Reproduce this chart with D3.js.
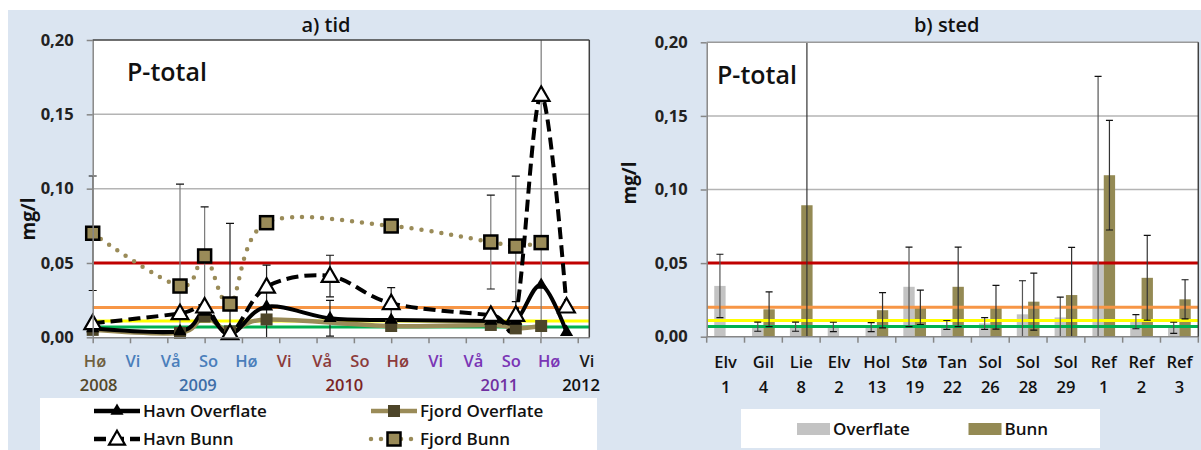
<!DOCTYPE html>
<html><head><meta charset="utf-8">
<script src="https://cdn.jsdelivr.net/npm/d3@7"></script>
<style>body{margin:0;background:#fff}svg{display:block}text{font-family:"Open Sans",sans-serif}</style>
</head><body><svg id="c" width="1201" height="450"></svg>
<script>
// ---------------- DATA ----------------
const yTicks = [0, 0.05, 0.10, 0.15, 0.20];
const refLevels = [0.05, 0.02, 0.011, 0.007];

// a) tid  — x given in seasons since autumn 2008
const seasonLabels = ["Hø","Vi","Vå","So","Hø","Vi","Vå","So","Hø","Vi","Vå","So","Hø","Vi"];
const seasonYear   = [0,1,1,1,1,2,2,2,2,3,3,3,3,4];
const yearLabels   = ["2008","2009","2010","2011","2012"];

const havnX          = [0, 2.34, 3.0, 3.68, 4.66, 6.36, 8.0, 10.67, 11.34, 12.02, 12.7];
const havnOverflate  = [0.006, 0.004, 0.017, 0.002, 0.0206, 0.0128, 0.0116, 0.011, 0.011, 0.0352, 0.0035];
const havnOverflateE = [null, null, null, null, 0.028, 0.012, null, null, null, null, null];
const havnBunn       = [0.0094, 0.0161, 0.0206, 0.0027, 0.034, 0.0412, 0.0229, 0.015, 0.015, 0.163, 0.0206];
const havnBunnE      = [null, null, null, 0.074, null, 0.014, 0.0105, null, 0.009, null, null];

const fjordX         = [0, 2.34, 3.0, 3.68, 4.66, 8.0, 10.67, 11.34, 12.02];
const fjordOverflate = [0.005, 0.003, 0.0139, 0.004, 0.012, 0.0076, 0.0083, 0.006, 0.0076];
const fjordBunn      = [0.070, 0.0345, 0.0547, 0.0224, 0.0771, 0.0749, 0.0641, 0.0614, 0.0637];
const fjordBunnE     = [0.0385, 0.0685, 0.033, null, null, null, 0.0316, 0.047, 0.14];

// b) sted
const stedNames = ["Elv","Gil","Lie","Elv","Hol","Stø","Tan","Sol","Sol","Sol","Ref","Ref","Ref"];
const stedNums  = ["1","4","8","2","13","19","22","26","28","29","1","2","3"];
const overflate  = [0.0345, 0.0068, 0.0068, 0.0066, 0.0065, 0.0339, 0.008, 0.009, 0.0152, 0.0131, 0.0498, 0.0102, 0.006];
const overflateE = [0.0215, 0.0031, 0.0031, 0.0032, 0.003, 0.027, 0.003, 0.004, 0.0228, 0.0138, 0.127, 0.0048, 0.0038];
const bunn       = [0, 0.0186, 0.0893, 0, 0.018, 0.02, 0.0339, 0.02, 0.0238, 0.0283, 0.1097, 0.04, 0.0254];
const bunnE      = [null, 0.0118, 0.15, null, 0.012, 0.0117, 0.027, 0.0149, 0.0194, 0.0324, 0.0372, 0.0288, 0.0133];

// ---------------- STYLE ----------------
const refColors = ["#c00000","#f79646","#ffff00","#00b050"];
const seasonColors = ["#6f6040","#4a7ebb","#8c3b3b","#7a35b5","#1a1a1a"];
const yearColors   = ["#54482a","#3e6ea8","#7a2424","#7030a0","#111111"];
const olive = "#9a8b58", oliveDark = "#4d4529", barOlive = "#948a54", barGray = "#c3c3c3";
const fmt = v => d3.format(".2f")(v).replace(".", ",");

const svg = d3.select("#c");
svg.append("rect").attr("x",8).attr("y",10).attr("width",1193).attr("height",440).attr("fill","#dbe5f1");

function frame(g, x0, x1, y0, y1) {
  g.append("rect").attr("x",x0).attr("y",y1).attr("width",x1-x0).attr("height",y0-y1).attr("fill","#fff");
}
function finishFrame(g, x0, x1, y0, y1, topCol) {
  g.append("line").attr("x1",x0).attr("x2",x1).attr("y1",y1).attr("y2",y1).attr("stroke",topCol).attr("stroke-width",1.5);
  g.append("line").attr("x1",x1).attr("x2",x1).attr("y1",y1).attr("y2",y0).attr("stroke","#404040").attr("stroke-width",1.5);
}
function grid(g, y, x0, x1) {
  [0.05,0.10,0.15].forEach(v => g.append("line").attr("x1",x0).attr("x2",x1).attr("y1",y(v)).attr("y2",y(v))
     .attr("stroke","#b4b4b4").attr("stroke-width",1.5));
  refLevels.forEach((v,i) => g.append("line").attr("x1",x0).attr("x2",x1).attr("y1",y(v)).attr("y2",y(v))
     .attr("stroke",refColors[i]).attr("stroke-width",3));
}
function yAxis(g, y, x0) {
  const ax = g.append("g").attr("transform",`translate(${x0},0)`)
    .call(d3.axisLeft(y).tickValues(yTicks).tickSize(6).tickSizeOuter(0).tickPadding(13).tickFormat(fmt));
  ax.select(".domain").attr("stroke","#868686").attr("stroke-width",1.5);
  ax.selectAll(".tick line").attr("stroke","#868686").attr("stroke-width",1.5);
  ax.selectAll(".tick text").attr("font-size",16.5).attr("font-weight",700).attr("fill","#222").attr("font-family","Open Sans");
}
function errBar(g, x, lo, hi, col, cap, clipY) {
  const a = Math.max(lo, 0), b = Math.min(hi, 0.2);
  g.append("line").attr("x1",x).attr("x2",x).attr("y1",clipY(a)).attr("y2",clipY(b)).attr("stroke",col).attr("stroke-width",1.2);
  if (lo >= 0) g.append("line").attr("x1",x-cap).attr("x2",x+cap).attr("y1",clipY(lo)).attr("y2",clipY(lo)).attr("stroke","#111").attr("stroke-width",1.2);
  if (hi <= 0.2) g.append("line").attr("x1",x-cap).attr("x2",x+cap).attr("y1",clipY(hi)).attr("y2",clipY(hi)).attr("stroke","#111").attr("stroke-width",1.2);
}

// ================= a) tid =================
{
  const X0 = 92.7, X1 = 589.3, Y0 = 337.3, Y1 = 40;
  const x = d3.scaleLinear().domain([0,13.31]).range([X0,X1]);
  const y = d3.scaleLinear().domain([0,0.2]).range([Y0,Y1]);
  const g = svg.append("g");
  frame(g, X0, X1, Y0, Y1);
  grid(g, y, X0, X1);
  svg.append("defs").append("clipPath").attr("id","clipA").append("rect").attr("x",X0-6).attr("y",Y1).attr("width",X1-X0+6).attr("height",Y0-Y1);
  const gp = g.append("g").attr("clip-path","url(#clipA)");

  fjordX.forEach((s,i) => { if (fjordBunnE[i] != null) errBar(gp, x(s), fjordBunn[i]-fjordBunnE[i], fjordBunn[i]+fjordBunnE[i], "#7a7a7a", 4, y); });
  havnX.forEach((s,i) => { if (havnBunnE[i] != null) errBar(gp, x(s), havnBunn[i]-havnBunnE[i], havnBunn[i]+havnBunnE[i], "#222", 4, y); });
  havnX.forEach((s,i) => { if (havnOverflateE[i] != null) errBar(gp, x(s), havnOverflate[i]-havnOverflateE[i], havnOverflate[i]+havnOverflateE[i], "#222", 4, y); });

  const line = d3.line().curve(d3.curveCatmullRom.alpha(0));
  const pts = (xs, vs) => xs.map((s,i) => [x(s), y(vs[i])]);

  gp.append("path").attr("d", line(pts(fjordX, fjordBunn))).attr("fill","none").attr("stroke",olive)
    .attr("stroke-width",4.5).attr("stroke-linecap","round").attr("stroke-dasharray","0,10");
  gp.append("path").attr("d", line(pts(fjordX, fjordOverflate))).attr("fill","none").attr("stroke",olive).attr("stroke-width",4.5);
  gp.append("path").attr("d", line(pts(havnX, havnOverflate))).attr("fill","none").attr("stroke","#000").attr("stroke-width",4);
  gp.append("path").attr("d", line(pts(havnX, havnBunn))).attr("fill","none").attr("stroke","#000")
    .attr("stroke-width",4).attr("stroke-dasharray","12,6");

  const tri = d3.symbol().type(d3.symbolTriangle);
  g.selectAll(".fo").data(fjordX).join("rect").attr("x",(s)=>x(s)-6).attr("y",(s,i)=>y(fjordOverflate[i])-6)
    .attr("width",12).attr("height",12).attr("fill",oliveDark);
  g.selectAll(".ho").data(havnX).join("path").attr("transform",(s,i)=>`translate(${x(s)},${y(havnOverflate[i])})`)
    .attr("d", tri.size(75)()).attr("fill","#000");
  g.selectAll(".fb").data(fjordX).join("rect").attr("x",(s)=>x(s)-6.5).attr("y",(s,i)=>y(fjordBunn[i])-6.5)
    .attr("width",13).attr("height",13).attr("fill",olive).attr("stroke","#000").attr("stroke-width",2.5);
  g.selectAll(".hb").data(havnX).join("path").attr("transform",(s,i)=>`translate(${x(s)},${y(havnBunn[i])+1})`)
    .attr("d", tri.size(120)()).attr("fill","#fff").attr("stroke","#000").attr("stroke-width",2.2);

  yAxis(g, y, X0);
  const xa = g.append("g").attr("transform",`translate(0,${Y0})`)
    .call(d3.axisBottom(x).tickValues(d3.range(14)).tickSize(6).tickSizeOuter(0).tickFormat(""));
  xa.select(".domain").attr("stroke","#868686").attr("stroke-width",1.5);
  xa.selectAll(".tick line").attr("stroke","#868686").attr("stroke-width",1.5);
  finishFrame(g, X0, X1, Y0, Y1, "#404040");

  const lp = d3.scalePoint().domain(d3.range(seasonLabels.length)).range([95,587]);
  g.selectAll(".sl").data(seasonLabels).join("text").attr("x",(d,i)=>lp(i)).attr("y",367)
    .attr("text-anchor","middle").attr("font-size",16.5).attr("font-weight",600)
    .attr("fill",(d,i)=>seasonColors[seasonYear[i]]).text(d=>d);
  const yearX = [98.7, 197.9, 344.4, 499.4, 581];
  g.selectAll(".yl").data(yearLabels).join("text").attr("x",(d,i)=>yearX[i]).attr("y",391)
    .attr("text-anchor","middle").attr("font-size",16.5).attr("font-weight",600)
    .attr("fill",(d,i)=>yearColors[i]).text(d=>d);

  g.append("text").attr("x",326).attr("y",32).attr("text-anchor","middle").attr("font-size",20).attr("font-weight",600).attr("fill","#111").text("a) tid");
  g.append("text").attr("x",127).attr("y",81).attr("font-size",25).attr("font-weight",600).attr("fill","#111").text("P-total");
  g.append("text").attr("transform","translate(35,219) rotate(-90)").attr("text-anchor","middle").attr("font-size",19).attr("font-weight",700).attr("fill","#111").text("mg/l");

  const lg = g.append("g");
  lg.append("rect").attr("x",40).attr("y",398).attr("width",557).attr("height",52).attr("fill","#fff");
  const items = [
    {name:"Havn Overflate", x:94, y:411, stroke:"#000", dash:null, mark:"tf"},
    {name:"Fjord Overflate", x:371, y:411, stroke:olive, dash:null, mark:"sd"},
    {name:"Havn Bunn", x:94, y:439, stroke:"#000", dash:"12,6", mark:"to"},
    {name:"Fjord Bunn", x:371, y:439, stroke:olive, dash:"0,10", mark:"sb"}
  ];
  items.forEach(it => {
    lg.append("line").attr("x1",it.x).attr("x2",it.x+46).attr("y1",it.y).attr("y2",it.y).attr("stroke",it.stroke)
      .attr("stroke-width",4.5).attr("stroke-dasharray",it.dash).attr("stroke-linecap",it.dash==="0,10"?"round":"butt");
    const cx = it.x+23;
    if (it.mark==="tf") lg.append("path").attr("transform",`translate(${cx},${it.y})`).attr("d",tri.size(75)()).attr("fill","#000");
    if (it.mark==="to") lg.append("path").attr("transform",`translate(${cx},${it.y+1})`).attr("d",tri.size(110)()).attr("fill","#fff").attr("stroke","#000").attr("stroke-width",2.2);
    if (it.mark==="sd") lg.append("rect").attr("x",cx-6).attr("y",it.y-6).attr("width",12).attr("height",12).attr("fill",oliveDark);
    if (it.mark==="sb") lg.append("rect").attr("x",cx-6.5).attr("y",it.y-6.5).attr("width",13).attr("height",13).attr("fill",olive).attr("stroke","#000").attr("stroke-width",2.5);
    lg.append("text").attr("x",it.x+49).attr("y",it.y+6).attr("font-size",17).attr("font-weight",600).attr("fill","#111").text(it.name);
  });
}

// ================= b) sted =================
{
  const X0 = 706.7, X1 = 1198.3, Y0 = 336.7, Y1 = 42.3;
  const cats = d3.range(stedNames.length);
  const x = d3.scaleBand().domain(cats).range([X0,X1]).paddingInner(0.4).paddingOuter(0.2);
  const x1 = d3.scaleBand().domain(["Overflate","Bunn"]).range([0, x.bandwidth()]);
  const y = d3.scaleLinear().domain([0,0.2]).range([Y0,Y1]);
  const g = svg.append("g");
  frame(g, X0, X1, Y0, Y1);
  svg.select("defs").append("clipPath").attr("id","clipB").append("rect").attr("x",X0).attr("y",Y1).attr("width",X1-X0).attr("height",Y0-Y1);
  const gp = g.append("g").attr("clip-path","url(#clipB)");
  [0.05,0.10,0.15].forEach(v => gp.append("line").attr("x1",X0).attr("x2",X1).attr("y1",y(v)).attr("y2",y(v)).attr("stroke","#b4b4b4").attr("stroke-width",1.5));

  gp.selectAll(".bo").data(overflate).join("rect").attr("x",(d,i)=>x(i)+x1("Overflate")).attr("width",x1.bandwidth())
    .attr("y",d=>y(d)).attr("height",d=>Y0-y(d)).attr("fill",barGray);
  gp.selectAll(".bb").data(bunn).join("rect").attr("x",(d,i)=>x(i)+x1("Bunn")).attr("width",x1.bandwidth())
    .attr("y",d=>y(d)).attr("height",d=>Y0-y(d)).attr("fill",barOlive);

  refLevels.forEach((v,i) => gp.append("line").attr("x1",X0).attr("x2",X1).attr("y1",y(v)).attr("y2",y(v))
     .attr("stroke",refColors[i]).attr("stroke-width",3));

  overflate.forEach((v,i) => errBar(gp, x(i)+x1("Overflate")+x1.bandwidth()/2, v-overflateE[i], v+overflateE[i], "#555", 3.5, y));
  bunn.forEach((v,i) => { if (bunnE[i]!=null) errBar(gp, x(i)+x1("Bunn")+x1.bandwidth()/2, v-bunnE[i], v+bunnE[i], "#333", 3.5, y); });

  yAxis(g, y, X0);
  const step = x.step();
  const xa = g.append("g").attr("transform",`translate(0,${Y0})`);
  xa.append("line").attr("x1",X0).attr("x2",X1).attr("stroke","#868686").attr("stroke-width",1.5);
  d3.range(stedNames.length+1).forEach(i => xa.append("line").attr("x1",X0+i*step).attr("x2",X0+i*step).attr("y1",0).attr("y2",6).attr("stroke","#868686").attr("stroke-width",1.5));
  finishFrame(g, X0, X1, Y0, Y1, "#9a9a9a");

  g.selectAll(".cn").data(stedNames).join("text").attr("x",(d,i)=>x(i)+x.bandwidth()/2).attr("y",368)
    .attr("text-anchor","middle").attr("font-size",16.5).attr("font-weight",600).attr("fill","#111").text(d=>d);
  g.selectAll(".cu").data(stedNums).join("text").attr("x",(d,i)=>x(i)+x.bandwidth()/2).attr("y",393)
    .attr("text-anchor","middle").attr("font-size",16.5).attr("font-weight",600).attr("fill","#111").text(d=>d);

  g.append("text").attr("x",946.7).attr("y",32).attr("text-anchor","middle").attr("font-size",20).attr("font-weight",600).attr("fill","#111").text("b) sted");
  g.append("text").attr("x",717).attr("y",84).attr("font-size",25).attr("font-weight",600).attr("fill","#111").text("P-total");
  g.append("text").attr("transform","translate(636,183) rotate(-90)").attr("text-anchor","middle").attr("font-size",19).attr("font-weight",700).attr("fill","#111").text("mg/l");

  const lg = g.append("g");
  lg.append("rect").attr("x",741).attr("y",409).attr("width",359).attr("height",39).attr("fill","#fff");
  [["Overflate",barGray,797],["Bunn",barOlive,968.5]].forEach(([n,c,lx]) => {
    lg.append("rect").attr("x",lx).attr("y",423).attr("width",33).attr("height",12).attr("fill",c);
    lg.append("text").attr("x",lx+36).attr("y",435).attr("font-size",17).attr("font-weight",600).attr("fill","#111").text(n);
  });
}
</script></body></html>
